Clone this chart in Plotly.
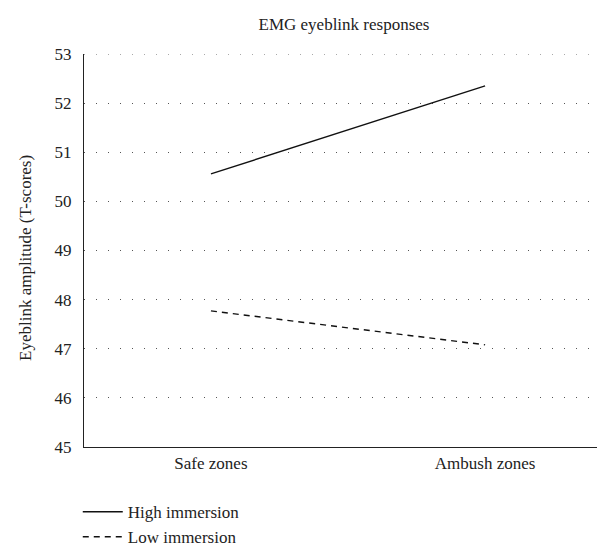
import plotly.graph_objects as go

categories = ["Safe zones", "Ambush zones"]
high_immersion = [50.56, 52.35]
low_immersion = [47.77, 47.08]
y_ticks = [45, 46, 47, 48, 49, 50, 51, 52, 53]

FONT = "Liberation Serif, Times New Roman, serif"
FS = 17

fig = go.Figure()
fig.add_trace(go.Scatter(x=categories, y=high_immersion, mode="lines",
                         name="High immersion",
                         line=dict(color="#111111", width=1.4)))
fig.add_trace(go.Scatter(x=categories, y=low_immersion, mode="lines",
                         name="Low immersion",
                         line=dict(color="#111111", width=1.4, dash="6px,5px")))

fig.update_layout(
    width=605, height=550,
    paper_bgcolor="white", plot_bgcolor="white",
    margin=dict(l=76, r=10, t=46, b=111, autoexpand=False),
    font=dict(family=FONT, size=FS, color="#222222"),
    title=dict(text="EMG eyeblink responses", x=336 / 605, xanchor="center",
               y=1 - 16 / 550, yanchor="middle", font=dict(size=FS, family=FONT)),
    showlegend=True,
    legend=dict(x=-0.012, xanchor="left", y=-0.12, yanchor="top",
                orientation="v", bgcolor="rgba(0,0,0,0)",
                font=dict(size=FS, family=FONT), tracegroupgap=0,
                itemwidth=40),
    xaxis=dict(type="category", range=[-0.463, 1.43], showgrid=False,
               showline=True, linecolor="#222222", linewidth=1.3,
               ticks="", zeroline=False, tickfont=dict(size=FS),
               automargin=False),
    yaxis=dict(range=[y_ticks[0], y_ticks[-1]], tickvals=y_ticks, showgrid=True,
               gridcolor="#555555", gridwidth=1, griddash="1px,11px",
               showline=True, linecolor="#222222", linewidth=1.3,
               ticks="", zeroline=False, tickfont=dict(size=FS),
               ticklabelstandoff=8, automargin=False),
    annotations=[dict(text="Eyeblink amplitude (T-scores)", textangle=-90,
                      xref="paper", yref="paper",
                      x=-(76 - 17) / 519, y=(439 - 250) / 393,
                      xanchor="center", yanchor="middle", showarrow=False,
                      font=dict(size=FS, family=FONT))],
)
# top gridline at the last tick (Plotly omits the gridline on the plot edge)
fig.add_shape(type="line", xref="paper", yref="y", x0=0, x1=1,
              y0=y_ticks[-1], y1=y_ticks[-1], layer="below",
              line=dict(color="#555555", width=1, dash="1px,11px"))

fig.write_html("out.html")
